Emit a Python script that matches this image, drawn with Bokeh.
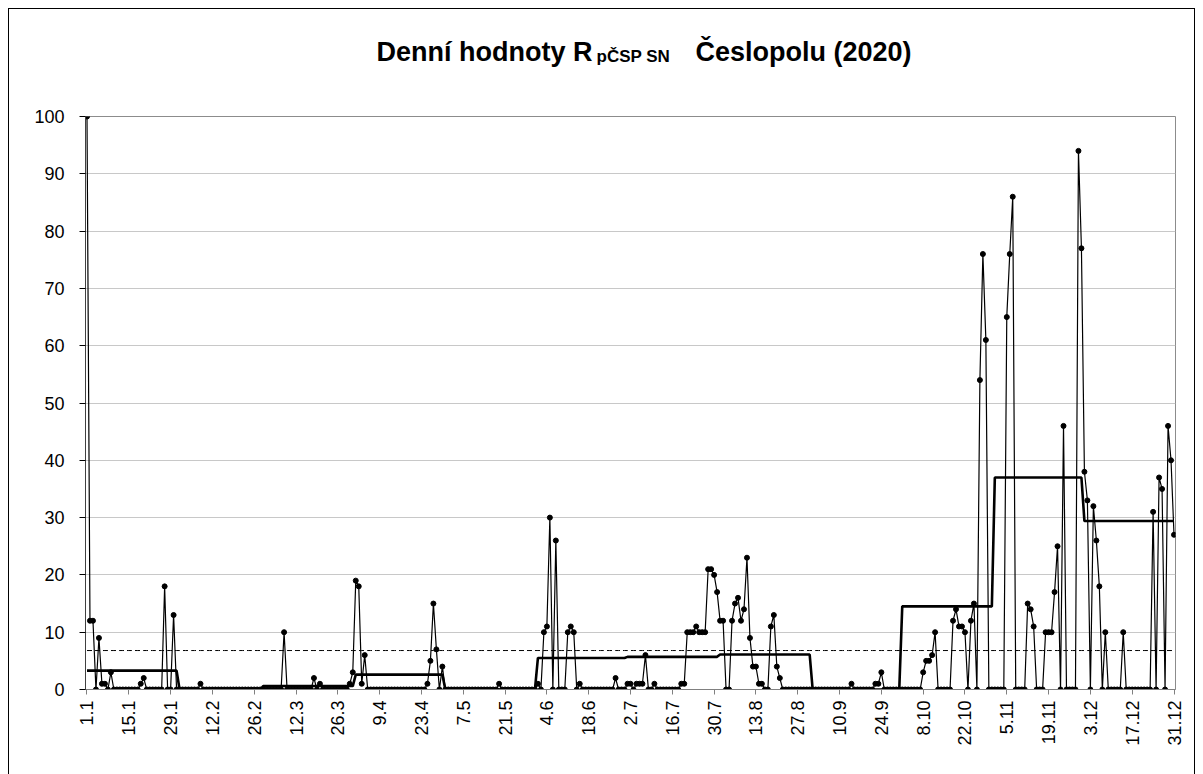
import math
from bokeh.plotting import figure
from bokeh.layouts import column
from bokeh.models import FixedTicker, ColumnDataSource
from bokeh.core.properties import value
from bokeh.embed import file_html
from bokeh.resources import INLINE

# ---- daily values (one list per month, Feb has 28 days in the chart) ----
jan = [100, 12, 12, 0, 9, 1, 1, 0, 3, 0, 0, 0, 0, 0, 0, 0, 0, 0, 1, 2,
       0, 0, 0, 0, 0, 0, 18, 0, 0, 13, 0]
feb = [0, 0, 0, 0, 0, 0, 0, 1, 0, 0, 0, 0, 0, 0, 0, 0, 0, 0, 0, 0,
       0, 0, 0, 0, 0, 0, 0, 0]
mar = [0, 0, 0, 0, 0, 0, 0, 10, 0, 0, 0, 0, 0, 0, 0, 0, 0, 2, 0, 1,
       0, 0, 0, 0, 0, 0, 0, 0, 0, 1, 3]
apr = [19, 18, 1, 6, 0, 0, 0, 0, 0, 0, 0, 0, 0, 0, 0, 0, 0, 0, 0, 0,
       0, 0, 0, 0, 1, 5, 15, 7, 0, 4]
may = [0, 0, 0, 0, 0, 0, 0, 0, 0, 0, 0, 0, 0, 0, 0, 0, 0, 0, 1, 0,
       0, 0, 0, 0, 0, 0, 0, 0, 0, 0, 0]
jun = [1, 0, 10, 11, 30, 0, 26, 0, 0, 0, 10, 11, 10, 0, 1, 0, 0, 0, 0, 0,
       0, 0, 0, 0, 0, 0, 2, 0, 0, 0]
jul = [1, 1, 0, 1, 1, 1, 6, 0, 0, 1, 0, 0, 0, 0, 0, 0, 0, 0, 1, 1,
       10, 10, 10, 11, 10, 10, 10, 21, 21, 20, 17]
aug = [12, 12, 0, 0, 12, 15, 16, 12, 14, 23, 9, 4, 4, 1, 1, 0, 0, 11, 13, 4,
       2, 0, 0, 0, 0, 0, 0, 0, 0, 0, 0]
sep = [0, 0, 0, 0, 0, 0, 0, 0, 0, 0, 0, 0, 0, 1, 0, 0, 0, 0, 0, 0,
       0, 1, 1, 3, 0, 0, 0, 0, 0, 0]
oct_ = [0, 0, 0, 0, 0, 0, 0, 3, 5, 5, 6, 10, 0, 0, 0, 0, 0, 12, 14, 11,
        11, 10, 0, 12, 15, 0, 54, 76, 61, 0, 0]
nov = [0, 0, 0, 0, 65, 76, 86, 0, 0, 0, 0, 15, 14, 11, 0, 0, 0, 10, 10, 10,
       17, 25, 0, 46, 0, 0, 0, 0, 94, 77]
dec = [38, 33, 0, 32, 26, 18, 0, 10, 0, 0, 0, 0, 0, 10, 0, 0, 0, 0, 0, 0,
       0, 0, 0, 31, 0, 37, 35, 0, 46, 40, 27]

# monthly level (thick step line) and the dashed reference level
month_level = [3.3, 0, 0.6, 2.6, 0, 5.5, 5.7, 6.1, 0, 14.5, 37, 29.4]
mean_level = 6.8

tick_labels = ["1.1", "15.1", "29.1", "12.2", "26.2", "12.3", "26.3", "9.4",
               "23.4", "7.5", "21.5", "4.6", "18.6", "2.7", "16.7", "30.7",
               "13.8", "27.8", "10.9", "24.9", "8.10", "22.10", "5.11",
               "19.11", "3.12", "17.12", "31.12"]

title_main = "Denní hodnoty R"
title_sub = "pČSP SN"
title_rest = "Česlopolu (2020)"

months = [jan, feb, mar, apr, may, jun, jul, aug, sep, oct_, nov, dec]
daily = [v for m in months for v in m]
days = list(range(len(daily)))
step = [lvl for m, lvl in zip(months, month_level) for _ in m]
mean_line = [mean_level] * len(daily)

src = ColumnDataSource(dict(x=days, y=daily, s=step, m=mean_line))

FONT = "Liberation Sans"
TITLE_H = 80

# ---------------- title strip (page pixel coordinates) ----------------
# the column aligns this strip's frame with the chart frame (85..1175 px)
pt = figure(width=1203, height=TITLE_H, output_backend="svg",
            toolbar_location=None, x_range=(85, 1175), y_range=(TITLE_H, 0),
            x_axis_type=None, y_axis_type=None, min_border=0,
            min_border_left=85, min_border_right=28,
            outline_line_color=None, background_fill_color="white",
            border_fill_color="white")
pt.grid.visible = False
pt.text(x=[592], y=[51], text=[title_main], text_font=value(FONT),
        text_font_style="bold", text_font_size="27px", text_align="right",
        text_baseline="alphabetic", text_color="black")
pt.text(x=[596], y=[56], text=[title_sub], text_font=value(FONT),
        text_font_style="bold", text_font_size="17px", text_align="left",
        text_baseline="alphabetic", text_color="black")
pt.text(x=[695], y=[51], text=[title_rest], text_font=value(FONT),
        text_font_style="bold", text_font_size="27px", text_align="left",
        text_baseline="alphabetic", text_color="black")

# ---------------- main chart ----------------
p = figure(width=1203, height=790 - TITLE_H, output_backend="svg",
           toolbar_location=None,
           x_range=(-0.5, len(daily) - 0.5), y_range=(0, 100),
           min_border_left=85, min_border_right=28, min_border_top=116 - TITLE_H,
           min_border_bottom=101, background_fill_color="white",
           border_fill_color="white")
p.outline_line_color = "#8c8c8c"
p.outline_line_width = 1

p.xaxis.ticker = FixedTicker(ticks=list(range(0, len(daily), 14)))
p.xaxis.major_label_overrides = {i * 14: t for i, t in enumerate(tick_labels)}
p.xaxis.major_label_orientation = math.pi / 2
p.xaxis.major_label_text_font = FONT
p.xaxis.major_label_text_font_size = "18px"
p.xaxis.major_label_text_color = "black"
p.xaxis.major_label_standoff = 6
p.xaxis.major_tick_out = 5
p.xaxis.major_tick_in = 0
p.xaxis.minor_tick_line_color = None
p.xaxis.axis_line_color = "#808080"
p.xaxis.major_tick_line_color = "#808080"

p.yaxis.ticker = FixedTicker(ticks=list(range(0, 101, 10)))
p.yaxis.major_label_text_font = FONT
p.yaxis.major_label_text_font_size = "18px"
p.yaxis.major_label_text_color = "black"
p.yaxis.major_label_standoff = 15
p.yaxis.major_tick_out = 6
p.yaxis.major_tick_in = 0
p.yaxis.minor_tick_line_color = None
p.yaxis.axis_line_color = "#404040"
p.yaxis.major_tick_line_color = "black"

p.xgrid.visible = False
p.ygrid.grid_line_color = "#c8c8c8"
p.ygrid.grid_line_width = 1

p.line("x", "m", source=src, line_color="black", line_width=1, line_dash="5 3")
p.line("x", "s", source=src, line_color="black", line_width=2.6)
p.line("x", "y", source=src, line_color="black", line_width=1.2)
p.scatter("x", "y", source=src, size=5, color="black")

layout = column(pt, p, spacing=0)

html = file_html(layout, INLINE)
css = ("<style>html, body { overflow: hidden; } "
       "body::after { content: ''; position: fixed; left: 8px; top: 8px; "
       "right: 8px; bottom: -20px; border: 1px solid black; "
       "pointer-events: none; }</style>")
html = html.replace("</head>", css + "</head>", 1)
open("out.html", "w").write(html)
